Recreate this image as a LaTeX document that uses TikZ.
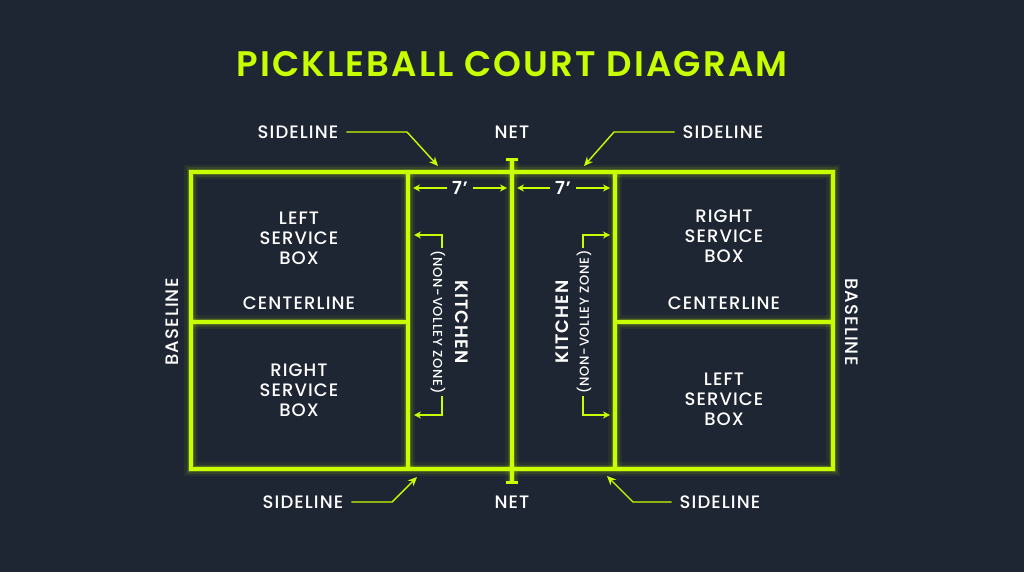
\documentclass[tikz,border=0pt]{standalone}
\usepackage{fontspec}
\setmainfont{Poppins}[UprightFont=* Medium, BoldFont=* SemiBold, LetterSpace=6]
\usetikzlibrary{arrows.meta}
\definecolor{bg}{HTML}{1F2633}
\definecolor{lime}{HTML}{C8FF00}
\begin{document}
\begin{tikzpicture}[x=1pt,y=-1pt,
 lbl/.style={text=white, font=\fontsize{18}{20}\selectfont, inner sep=0pt, align=center},
 smlbl/.style={text=white, font=\fontsize{13}{15}\selectfont, inner sep=0pt},
 ttl/.style={text=lime, font=\fontsize{35.5}{38}\selectfont\bfseries, inner sep=0pt},
 ptr/.style={draw=lime, line width=1.4pt, line join=round, -{Stealth[length=9pt,width=8pt]}},
 dim/.style={draw=lime, line width=1.4pt, -{Stealth[length=7pt,width=7pt]}},
]
\fill[bg] (0,0) rectangle (1024,572);
\useasboundingbox (0,0) rectangle (1024,572);

% court coordinates
\coordinate (TL) at (191,172);
\coordinate (BR) at (833,469);
\coordinate (k1t) at (408,172); \coordinate (k1b) at (408,469);
\coordinate (k2t) at (615,172); \coordinate (k2b) at (615,469);
\coordinate (nt) at (512,160); \coordinate (nb) at (512,482);
\coordinate (c1l) at (191,322); \coordinate (c1r) at (408,322);
\coordinate (c2l) at (615,322); \coordinate (c2r) at (833,322);

\foreach \w/\o in {14/0.05, 9/0.10, 6/0.22, 3.2/1} {
  \draw[lime, line width=\w pt, opacity=\o] (TL) rectangle (BR);
  \draw[lime, line width=\w pt, opacity=\o] (k1t) -- (k1b) (k2t) -- (k2b) (nt) -- (nb)
     (c1l) -- (c1r) (c2l) -- (c2r);
}
\draw[lime, line width=3pt] (506,160) -- (518,160) (506,482) -- (518,482);

% title
\node[ttl] (title) at (512,64) {PICKLEBALL COURT DIAGRAM};

% top labels
\node[lbl] (sl1) at (298,132) {SIDELINE};
\node[lbl] (net1) at (512,132) {NET};
\node[lbl] (sl2) at (723,132) {SIDELINE};
\coordinate (sl1tip) at (438,166);
\coordinate (sl2tip) at (584,166);
\draw[ptr] (sl1.east) ++(8,0) -- (407,132) -- (sl1tip);
\draw[ptr] (sl2.west) ++(-8,0) -- (614,132) -- (sl2tip);

% bottom labels
\node[lbl] (sl3) at (303,502) {SIDELINE};
\node[lbl] (net2) at (512,502) {NET};
\node[lbl] (sl4) at (720,502) {SIDELINE};
\coordinate (sl3tip) at (417,477);
\coordinate (sl4tip) at (607,476);
\draw[ptr] (sl3.east) ++(8,0) -- (392,502) -- (sl3tip);
\draw[ptr] (sl4.west) ++(-8,0) -- (633,502) -- (sl4tip);

% 7 ft dimensions
\node[lbl, font=\fontsize{18}{20}\selectfont\bfseries] (d1) at (460,188) {7’};
\node[lbl, font=\fontsize{18}{20}\selectfont\bfseries] (d2) at (563,188) {7’};
\coordinate (d1l) at (413,188); \coordinate (d1r) at (507,188);
\coordinate (d2l) at (517,188); \coordinate (d2r) at (610,188);
\draw[dim] (d1.west) ++(-5,0) -- (d1l);
\draw[dim] (d1.east) ++(5,0) -- (d1r);
\draw[dim] (d2.west) ++(-5,0) -- (d2l);
\draw[dim] (d2.east) ++(5,0) -- (d2r);

% service boxes
\node[lbl] (lsb1) at (299,238) {LEFT\\SERVICE\\BOX};
\node[lbl] (cl1) at (299,303) {CENTERLINE};
\node[lbl] (rsb1) at (299,390) {RIGHT\\SERVICE\\BOX};
\node[lbl] (rsb2) at (724,236) {RIGHT\\SERVICE\\BOX};
\node[lbl] (cl2) at (724,303) {CENTERLINE};
\node[lbl] (lsb2) at (724,399) {LEFT\\SERVICE\\BOX};

% baselines
\node[lbl, rotate=90] (bl1) at (172,322) {BASELINE};
\node[lbl, rotate=-90] (bl2) at (852,322) {BASELINE};

% kitchens
\node[lbl, rotate=-90, font=\fontsize{18}{20}\selectfont\bfseries] (kit1) at (462,322) {KITCHEN};
\node[smlbl, rotate=-90] (nvz1) at (438,322) {(NON-VOLLEY ZONE)};
\node[lbl, rotate=90, font=\fontsize{18}{20}\selectfont\bfseries] (kit2) at (562,322) {KITCHEN};
\node[smlbl, rotate=90] (nvz2) at (584,322) {(NON-VOLLEY ZONE)};

\coordinate (b1t) at (414,235); \coordinate (b1b) at (414,415);
\coordinate (b2t) at (610,235); \coordinate (b2b) at (610,415);
\draw[dim] (nvz1.west) ++(4,-2) |- (b1t);
\draw[dim] (nvz1.east) ++(4,2) |- (b1b);
\draw[dim] (nvz2.east) ++(-1,-2) |- (b2t);
\draw[dim] (nvz2.west) ++(-1,2) |- (b2b);
\end{tikzpicture}
\end{document}
